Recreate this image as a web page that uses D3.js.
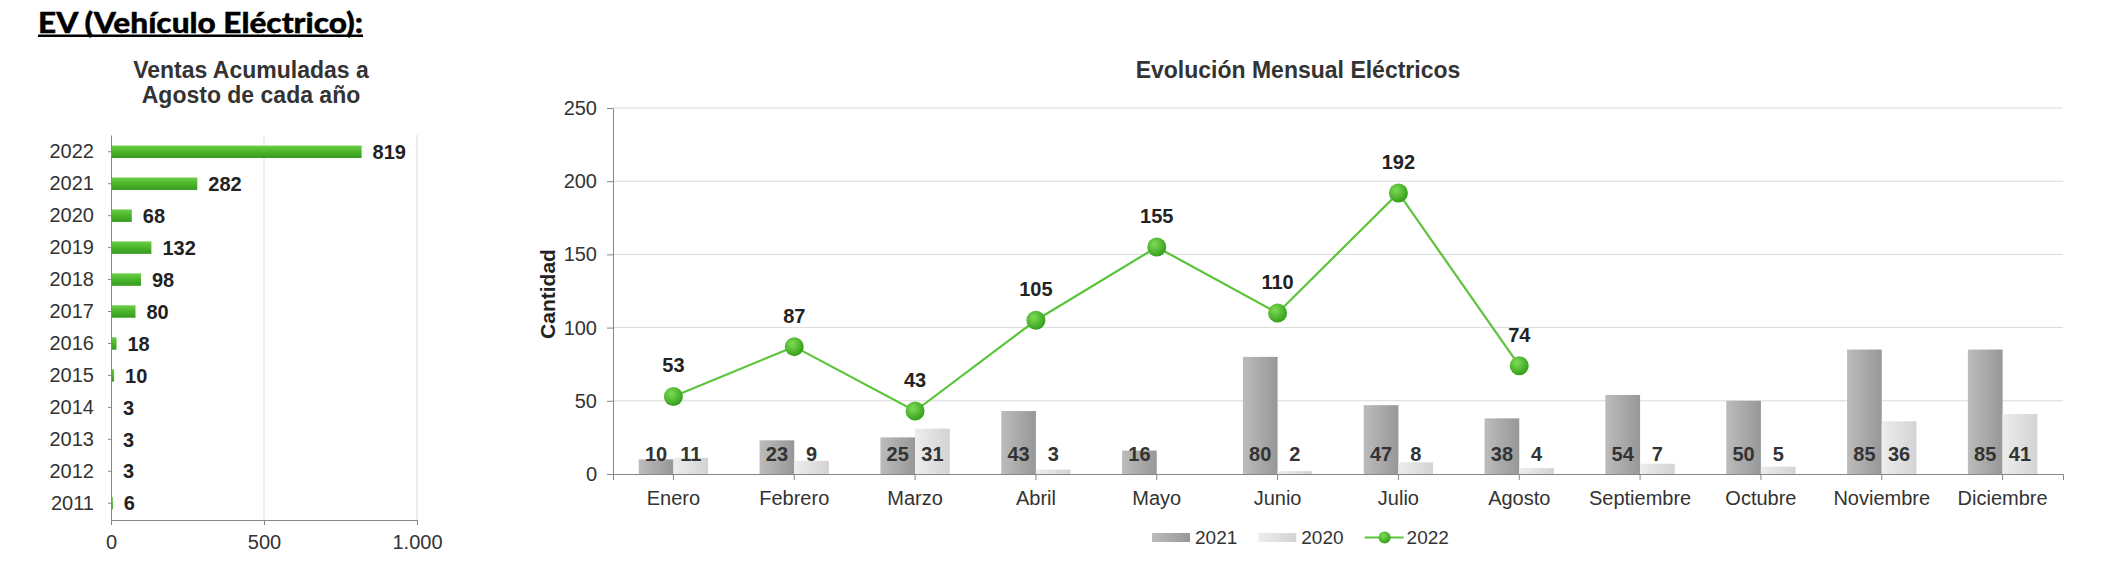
<!DOCTYPE html>
<html>
<head>
<meta charset="utf-8">
<script src="https://cdn.jsdelivr.net/npm/d3@7"></script>
<style>
  body { margin: 0; background: #fff; }
  svg { display: block; font-family: "Liberation Sans", Arial, sans-serif; }
</style>
</head>
<body>
<div id="chart"></div>
<script>
// acumulado a agosto
const years = ["2022", "2021", "2020", "2019", "2018", "2017", "2016", "2015", "2014", "2013", "2012", "2011"];
const ventasAcum = [819, 282, 68, 132, 98, 80, 18, 10, 3, 3, 3, 6];
const accTicks = [0, 500, 1000];

// evolucion mensual
const months = ["Enero", "Febrero", "Marzo", "Abril", "Mayo", "Junio", "Julio", "Agosto",
  "Septiembre", "Octubre", "Noviembre", "Diciembre"];
const serie2021 = [10, 23, 25, 43, 16, 80, 47, 38, 54, 50, 85, 85];
const serie2020 = [11, 9, 31, 3, null, 2, 8, 4, 7, 5, 36, 41];
const serie2022 = [53, 87, 43, 105, 155, 110, 192, 74];
const monthTicks = [0, 50, 100, 150, 200, 250];
const legendItems = ["2021", "2020", "2022"];

const es = d3.formatLocale({ decimal: ",", thousands: ".", grouping: [3], currency: ["", "€"] });

const svg = d3.select("#chart")
  .append("svg")
  .attr("width", 2104)
  .attr("height", 576);

const defs = svg.append("defs");

const gGreen = defs.append("linearGradient").attr("id", "gGreen")
  .attr("x1", 0).attr("y1", 0).attr("x2", 0).attr("y2", 1);
gGreen.append("stop").attr("offset", "0%").attr("stop-color", "#6ccf48");
gGreen.append("stop").attr("offset", "45%").attr("stop-color", "#4db72d");
gGreen.append("stop").attr("offset", "100%").attr("stop-color", "#379a1f");

const gDark = defs.append("linearGradient").attr("id", "gDark")
  .attr("x1", 0).attr("y1", 0).attr("x2", 1).attr("y2", 0);
gDark.append("stop").attr("offset", "0%").attr("stop-color", "#bcbcbc");
gDark.append("stop").attr("offset", "100%").attr("stop-color", "#979797");

const gLight = defs.append("linearGradient").attr("id", "gLight")
  .attr("x1", 0).attr("y1", 0).attr("x2", 1).attr("y2", 0);
gLight.append("stop").attr("offset", "0%").attr("stop-color", "#ededed");
gLight.append("stop").attr("offset", "100%").attr("stop-color", "#d3d3d3");

const gMarker = defs.append("radialGradient").attr("id", "gMarker")
  .attr("cx", "38%").attr("cy", "35%").attr("r", "65%");
gMarker.append("stop").attr("offset", "0%").attr("stop-color", "#7edb55");
gMarker.append("stop").attr("offset", "100%").attr("stop-color", "#36a01c");

// titulo
svg.append("text")
  .attr("x", 38)
  .attr("y", 32.5)
  .attr("font-family", "Lato, 'Open Sans', sans-serif")
  .attr("font-weight", 900)
  .attr("font-size", "29px")
  .attr("fill", "#000")
  .attr("stroke", "#000")
  .attr("stroke-width", 0.4)
  .attr("textLength", 325)
  .attr("lengthAdjust", "spacingAndGlyphs")
  .text("EV (Vehículo Eléctrico):");

svg.append("rect")
  .attr("x", 38).attr("y", 34.5)
  .attr("width", 325).attr("height", 2.5)
  .attr("fill", "#000");

// ---------- grafico izquierdo ----------
const lx = d3.scaleLinear().domain([0, 1000]).range([111, 417]);
const ly = d3.scaleBand().domain(years).range([135, 520]).paddingInner(0.61).paddingOuter(0.33);

const left = svg.append("g");

left.append("text")
  .attr("x", 251)
  .attr("text-anchor", "middle")
  .attr("font-weight", "bold")
  .attr("font-size", "23px")
  .attr("fill", "#333")
  .selectAll("tspan")
  .data(["Ventas Acumuladas a", "Agosto de cada año"])
  .join("tspan")
  .attr("x", 251)
  .attr("y", (d, i) => 78 + i * 25)
  .text(d => d);

left.append("g")
  .selectAll("line")
  .data(accTicks.slice(1))
  .join("line")
  .attr("x1", d => lx(d)).attr("x2", d => lx(d))
  .attr("y1", 135).attr("y2", 520)
  .attr("stroke", "#d9d9d9");

left.selectAll("rect.acc")
  .data(years)
  .join("rect")
  .attr("class", "acc")
  .attr("x", lx(0))
  .attr("y", d => ly(d))
  .attr("width", (d, i) => lx(ventasAcum[i]) - lx(0))
  .attr("height", ly.bandwidth())
  .attr("fill", "url(#gGreen)");

left.selectAll("text.accval")
  .data(years)
  .join("text")
  .attr("class", "accval")
  .attr("x", (d, i) => lx(ventasAcum[i]) + 11)
  .attr("y", d => ly(d) + ly.bandwidth() / 2)
  .attr("dy", "0.36em")
  .attr("font-weight", "bold")
  .attr("font-size", "20px")
  .attr("fill", "#222")
  .text((d, i) => ventasAcum[i]);

const lyAxis = left.append("g")
  .attr("transform", `translate(${lx(0)},0)`)
  .call(d3.axisLeft(ly).tickSize(3).tickSizeOuter(0).tickPadding(14));

const lxAxis = left.append("g")
  .attr("transform", "translate(0,520)")
  .call(d3.axisBottom(lx).tickValues(accTicks).tickSize(5).tickSizeOuter(0).tickPadding(10)
    .tickFormat(es.format(",")));

[lyAxis, lxAxis].forEach(a => {
  a.selectAll("path, line").attr("stroke", "#868686");
  a.selectAll("text")
    .attr("font-family", "'Liberation Sans', Arial, sans-serif")
    .attr("font-size", "20px")
    .attr("fill", "#333");
});

// ---------- grafico mensual ----------
const mx = d3.scaleBand().domain(months).range([613, 2063]);
const my = d3.scaleLinear().domain([0, 250]).range([474, 108]);
const barW = mx.bandwidth() * 0.287;
const x1 = d3.scaleBand().domain(["2021", "2020"])
  .range([mx.bandwidth() / 2 - barW, mx.bandwidth() / 2 + barW]);

const right = svg.append("g");

right.append("text")
  .attr("x", 1298)
  .attr("y", 78)
  .attr("text-anchor", "middle")
  .attr("font-weight", "bold")
  .attr("font-size", "23px")
  .attr("fill", "#333")
  .text("Evolución Mensual Eléctricos");

right.append("text")
  .attr("transform", "translate(555,294) rotate(-90)")
  .attr("text-anchor", "middle")
  .attr("font-weight", "bold")
  .attr("font-size", "21px")
  .attr("fill", "#222")
  .text("Cantidad");

right.append("g")
  .selectAll("line")
  .data(monthTicks.slice(1))
  .join("line")
  .attr("x1", 613).attr("x2", 2063)
  .attr("y1", d => my(d)).attr("y2", d => my(d))
  .attr("stroke", "#d9d9d9");

const barSeries = [
  { name: "2021", values: serie2021, fill: "url(#gDark)" },
  { name: "2020", values: serie2020, fill: "url(#gLight)" }
];

barSeries.forEach(s => {
  const cells = months.map((m, i) => ({ m, v: s.values[i] })).filter(d => d.v != null);

  right.selectAll(`rect.b${s.name}`)
    .data(cells)
    .join("rect")
    .attr("class", `b${s.name}`)
    .attr("x", d => mx(d.m) + x1(s.name))
    .attr("y", d => my(d.v))
    .attr("width", x1.bandwidth())
    .attr("height", d => my(0) - my(d.v))
    .attr("fill", s.fill);

  right.selectAll(`text.l${s.name}`)
    .data(cells)
    .join("text")
    .attr("class", `l${s.name}`)
    .attr("x", d => mx(d.m) + x1(s.name) + x1.bandwidth() / 2)
    .attr("y", my(0) - 13)
    .attr("text-anchor", "middle")
    .attr("font-weight", "bold")
    .attr("font-size", "20px")
    .attr("fill", "#333")
    .text(d => d.v);
});

const myAxis = right.append("g")
  .attr("transform", "translate(613,0)")
  .call(d3.axisLeft(my).tickValues(monthTicks).tickSize(6).tickSizeOuter(0).tickPadding(10));

const mxAxis = right.append("g")
  .attr("transform", `translate(0,${my(0)})`)
  .call(d3.axisBottom(mx).tickSize(6).tickPadding(10.5));

[myAxis, mxAxis].forEach(a => {
  a.selectAll("path, line").attr("stroke", "#868686");
  a.selectAll("text")
    .attr("font-family", "'Liberation Sans', Arial, sans-serif")
    .attr("font-size", "20px")
    .attr("fill", "#333");
});

const pts = serie2022.map((v, i) => ({ m: months[i], v }));
const cx = d => mx(d.m) + mx.bandwidth() / 2;

right.append("path")
  .datum(pts)
  .attr("fill", "none")
  .attr("stroke", "#5cc43a")
  .attr("stroke-width", 2.2)
  .attr("d", d3.line().x(cx).y(d => my(d.v)));

right.selectAll("circle.p22")
  .data(pts)
  .join("circle")
  .attr("class", "p22")
  .attr("cx", cx)
  .attr("cy", d => my(d.v))
  .attr("r", 9.5)
  .attr("fill", "url(#gMarker)");

right.selectAll("text.v22")
  .data(pts)
  .join("text")
  .attr("class", "v22")
  .attr("x", cx)
  .attr("y", d => my(d.v) - 24)
  .attr("text-anchor", "middle")
  .attr("font-weight", "bold")
  .attr("font-size", "20px")
  .attr("fill", "#222")
  .text(d => d.v);

// leyenda
const legend = right.append("g").attr("transform", "translate(1152,537.5)");
let lxPos = 0;
legendItems.forEach((name, i) => {
  const item = legend.append("g").attr("transform", `translate(${lxPos},0)`);
  if (i < 2) {
    item.append("rect")
      .attr("x", 0).attr("y", -4.5)
      .attr("width", 38).attr("height", 9)
      .attr("fill", i === 0 ? "url(#gDark)" : "url(#gLight)");
  } else {
    item.append("line")
      .attr("x1", 0).attr("x2", 39)
      .attr("stroke", "#5cc43a").attr("stroke-width", 2.2);
    item.append("circle")
      .attr("cx", 20).attr("r", 6)
      .attr("fill", "url(#gMarker)");
  }
  const t = item.append("text")
    .attr("x", i < 2 ? 43 : 42)
    .attr("y", 6.5)
    .attr("font-size", "19px")
    .attr("fill", "#333")
    .text(name);
  lxPos += 43 + t.node().getComputedTextLength() + 21;
});
</script>
</body>
</html>
